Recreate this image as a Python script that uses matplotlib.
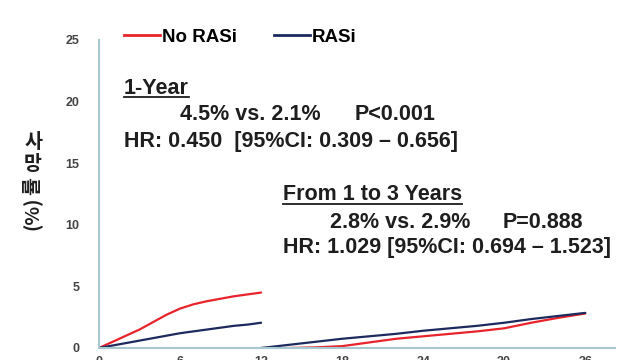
import matplotlib
matplotlib.use("Agg")
import matplotlib.pyplot as plt
from matplotlib.lines import Line2D

# ================== 数据 ==================
months_y1 = [0, 1, 2, 3, 4, 5, 6, 7, 8, 9, 10, 11, 12]
no_rasi_y1 = [0, 0.5, 1.0, 1.5, 2.1, 2.7, 3.2, 3.55, 3.8, 4.0, 4.2, 4.35, 4.5]
rasi_y1 = [0, 0.2, 0.4, 0.6, 0.8, 1.0, 1.2, 1.35, 1.5, 1.65, 1.8, 1.9, 2.05]

months_y13 = [12, 14, 16, 18, 20, 22, 24, 26, 28, 30, 32, 34, 36]
no_rasi_y13 = [0, 0, 0.05, 0.15, 0.45, 0.75, 0.95, 1.15, 1.35, 1.6, 2.05, 2.45, 2.8]
rasi_y13 = [0, 0.25, 0.5, 0.75, 0.95, 1.15, 1.4, 1.6, 1.8, 2.05, 2.35, 2.6, 2.85]

x_ticks = [0, 6, 12, 18, 24, 30, 36]
y_ticks = [0, 5, 10, 15, 20, 25]

RED = "#e8232b"
NAVY = "#1d2a5e"
AXIS_C = "#a6c9d1"
TXT = "#1e1e1e"
FONT = "Liberation Sans"

W, H = 640, 360


def px(x, y):
    """像素坐标 -> figure 坐标"""
    return x / W, 1 - y / H


fig = plt.figure(figsize=(6.4, 3.6), dpi=100)
ax = fig.add_axes([99 / W, 12 / H, 516 / W, 308 / H])

ax.plot(months_y1, no_rasi_y1, color=RED, lw=1.6, solid_capstyle="round")
ax.plot(months_y1, rasi_y1, color=NAVY, lw=1.6, solid_capstyle="round")
ax.plot(months_y13, no_rasi_y13, color=RED, lw=1.6, solid_capstyle="round")
ax.plot(months_y13, rasi_y13, color=NAVY, lw=1.6, solid_capstyle="round")

ax.set_xlim(0, 38.2)
ax.set_ylim(0, 25)
ax.set_xticks(x_ticks)
ax.set_yticks(y_ticks)
for s in ["top", "right"]:
    ax.spines[s].set_visible(False)
for s in ["left", "bottom"]:
    ax.spines[s].set_color(AXIS_C)
    ax.spines[s].set_linewidth(1.5)
ax.tick_params(axis="both", length=0, labelcolor="#444444")
ax.tick_params(axis="y", pad=14)
ax.tick_params(axis="x", pad=6)
for lab in ax.get_xticklabels() + ax.get_yticklabels():
    lab.set_fontfamily(FONT)
    lab.set_fontweight("bold")
    lab.set_fontsize(9)

# ------------------ 图例 ------------------
handles = [Line2D([], [], color=RED, lw=2), Line2D([], [], color=NAVY, lw=2)]
fig.legend(handles, ["No RASi", "RASi"], loc="center left",
           bbox_to_anchor=px(124, 37), ncol=2, frameon=False,
           handlelength=1.9, handletextpad=0.1, columnspacing=2.0,
           borderpad=0, borderaxespad=0,
           prop={"family": FONT, "weight": "bold", "size": 13.5})

# ------------------ y 轴标题 ------------------
kr = ["Noto Sans CJK KR", "DejaVu Sans"]
fig.text(*px(33, 143), "사", family=kr, weight="bold", fontsize=14,
         ha="center", va="center", color=TXT)
fig.text(*px(33, 165), "망", family=kr, weight="bold", fontsize=14,
         ha="center", va="center", color=TXT)
fig.text(*px(33, 186), "률", family=kr, weight="bold", fontsize=14,
         ha="center", va="center", rotation=90, color=TXT)
fig.text(*px(33, 213), "(%)", family=kr, weight="bold", fontsize=14,
         ha="center", va="center", rotation=90, color=TXT)

# ------------------ 注释文字 ------------------
tkw = dict(family=FONT, weight="bold", fontsize=15.5, color=TXT, va="center")
t1 = fig.text(*px(124, 88), "1-Year", **tkw)
fig.text(*px(180, 115), "4.5% vs. 2.1%", **tkw)
fig.text(*px(355, 115), "P<0.001", **tkw)
fig.text(*px(124, 142), "HR: 0.450  [95%CI: 0.309 \u2013 0.656]", **tkw)

t2 = fig.text(*px(283, 195), "From 1 to 3 Years", **tkw)
fig.text(*px(330, 222), "2.8% vs. 2.9%", **tkw)
fig.text(*px(503, 222), "P=0.888", **tkw)
fig.text(*px(283, 248), "HR: 1.029 [95%CI: 0.694 \u2013 1.523]", **tkw)

# 下划线
fig.canvas.draw()
for t in (t1, t2):
    bb = t.get_window_extent()
    yb = bb.y0 + 2
    fig.add_artist(Line2D([bb.x0 / W, bb.x1 / W], [yb / H, yb / H],
                          color=TXT, lw=1.3, transform=fig.transFigure))

fig.savefig("out.png", dpi=100)
